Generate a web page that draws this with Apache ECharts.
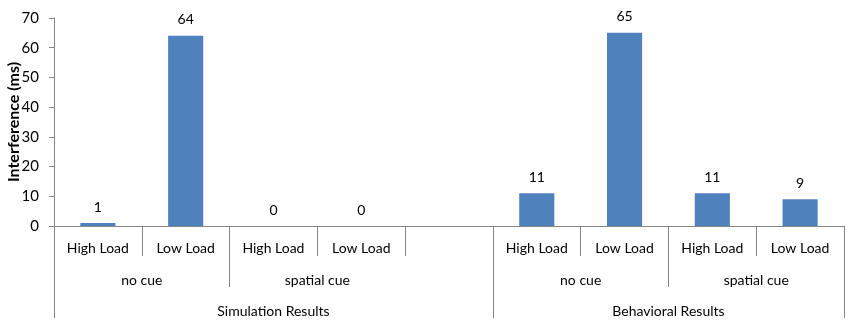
<!DOCTYPE html>
<html>
<head>
<meta charset="utf-8">
<script src="https://cdn.jsdelivr.net/npm/echarts@6/dist/echarts.min.js"></script>
<style>
  html, body { margin: 0; padding: 0; background: #fff; }
  #chart { width: 851px; height: 328px; }
</style>
</head>
<body>
<div id="chart"></div>
<script>
// bottom row: one label per bar slot (slot 5 is the empty gap)
const loadLabels = ['High Load', 'Low Load', 'High Load', 'Low Load', '', 'High Load', 'Low Load', 'High Load', 'Low Load'];
const interference = [1, 64, 0, 0, null, 11, 65, 11, 9];

// middle row: cue groups and how many slots each covers
const cueGroups = ['no cue', 'spatial cue', '', 'no cue', 'spatial cue'];
const cueSpans = [2, 2, 1, 2, 2];

// top row: result groups and their spans
const resultGroups = ['Simulation Results', 'Behavioral Results'];
const resultSpans = [5, 4];

const yTicks = [0, 10, 20, 30, 40, 50, 60, 70];

const axisGray = '#868686';
const fontFamily = 'Lato, "Noto Sans", sans-serif';

// build a half-slot category axis (2n+1 points) from group names + spans
function buildLevel(names, spans) {
  const n = loadLabels.length;
  const labels = new Array(2 * n + 1).fill('');
  const ticks = new Set([0, 2 * n]);
  let start = 0;
  names.forEach((name, i) => {
    const end = start + spans[i];
    labels[start + end] = name;   // center in half-slot units
    // separator only between two named groups (excel skips the blank one)
    if (name && names[i + 1]) ticks.add(2 * end);
    start = end;
  });
  return { labels, ticks };
}

const cueLevel = buildLevel(cueGroups, cueSpans);
const resultLevel = buildLevel(resultGroups, resultSpans);

// a tick from the lower row is drawn by the longer axis, keep only the group edges
const cueTicks = new Set([...cueLevel.ticks].filter(t => !resultLevel.ticks.has(t)));

const myChart = echarts.init(document.getElementById('chart'));

const levelAxis = (data, tickSet, tickLen, margin) => ({
  type: 'category',
  position: 'bottom',
  offset: 0,
  boundaryGap: false,
  data: data,
  axisLine: { show: false },
  axisTick: {
    show: true,
    length: tickLen,
    interval: (idx) => tickSet.has(idx),
    lineStyle: { color: axisGray, width: 1 }
  },
  axisLabel: {
    interval: 0,
    margin: margin,
    color: '#000',
    fontSize: 14,
    fontFamily: fontFamily
  },
  splitLine: { show: false }
});

const option = {
  animation: false,
  grid: {
    left: 54,
    right: 7,
    top: 18,
    bottom: 102,
    containLabel: false,
    outerBoundsMode: 'none'
  },
  xAxis: [
    {
      type: 'category',
      data: loadLabels,
      axisLine: { lineStyle: { color: axisGray, width: 1 } },
      axisTick: { show: true, length: 30, lineStyle: { color: axisGray } },
      axisLabel: {
        interval: 0,
        margin: 15,
        color: '#000',
        fontSize: 14,
        fontFamily: fontFamily
      }
    },
    levelAxis(cueLevel.labels, cueTicks, 61, 47),
    levelAxis(resultLevel.labels, resultLevel.ticks, 92, 78)
  ],
  yAxis: {
    type: 'value',
    min: yTicks[0],
    max: yTicks[yTicks.length - 1],
    interval: 10,
    name: 'Interference (ms)',
    nameLocation: 'middle',
    nameGap: 32,
    nameMoveOverlap: false,
    nameTextStyle: {
      color: '#000',
      fontSize: 16,
      fontWeight: 'bold',
      fontFamily: fontFamily
    },
    axisLine: { show: true, lineStyle: { color: axisGray, width: 1 } },
    axisTick: { show: true, length: 5, lineStyle: { color: axisGray } },
    axisLabel: {
      margin: 15,
      color: '#000',
      fontSize: 15,
      fontFamily: fontFamily
    },
    splitLine: { show: false }
  },
  series: [
    {
      type: 'bar',
      data: interference,
      barWidth: '40%',
      itemStyle: { color: '#4F81BD' },
      label: {
        show: true,
        position: 'top',
        distance: 9,
        color: '#000',
        fontSize: 14,
        fontFamily: fontFamily
      }
    }
  ]
};

myChart.setOption(option);
</script>
</body>
</html>
